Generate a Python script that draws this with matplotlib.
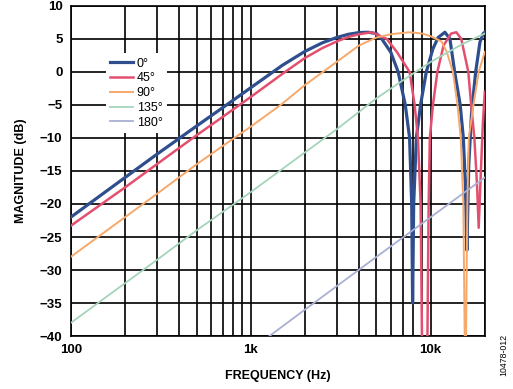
import numpy as np
import matplotlib
matplotlib.use('Agg')
import matplotlib.pyplot as plt
from matplotlib.ticker import FixedLocator, NullFormatter

plt.rcParams['font.family'] = ['Liberation Sans', 'DejaVu Sans']

# values (frequency in Hz, magnitude in dB)
f_0 = [100, 200, 300, 500, 700, 1000, 1500, 2000, 2500, 3000, 3500, 4000, 4500, 5000,
       5350, 6000, 6600, 7230, 7640, 7850, 7940, 8050, 8330, 8790, 9460, 10300, 11000,
       12000, 12800, 13600, 14600, 15200, 15600, 15900, 16300, 16900, 17800, 18800,
       19600, 20000]
m_0 = [-22, -16, -12.5, -8.2, -5.4, -2.4, 1, 3.1, 4.4, 5.2, 5.7, 5.95, 6, 5.8,
       5, 3, 0, -5, -10, -20, -35, -20, -10, -5, 0, 3.5, 5.2,
       6, 5, 0, -5, -10, -17, -27, -14, -6, 0, 4.5,
       5.8, 6]

f_45 = [100, 200, 300, 500, 700, 1000, 1500, 2000, 2500, 3000, 3500, 4000, 4700, 5700,
        6500, 7640, 8150, 8500, 8800, 8950, 9150, 9600, 9750, 9900, 10300, 10900, 11800,
        13000, 13900, 14800, 16200, 16800, 17500, 18100, 18500, 18900, 19500, 20000]
m_45 = [-23.3, -17.5, -14, -9.6, -6.8, -3.8, -0.3, 2.1, 3.6, 4.6, 5.3, 5.7, 6, 5,
        3, 0, -5, -10, -20, -40, -55, -40, -20, -10, -5, 0, 4,
        5.8, 6, 5, 0, -5, -10, -17, -23.6, -17, -8, -3]

f_90 = [100, 200, 300, 500, 700, 1000, 1500, 2000, 3000, 4000, 5000, 6000, 7600,
        9000, 10000, 11500, 12300, 13300, 14100, 14700, 15200, 15600, 16000, 16300,
        17300, 18500, 20000]
m_90 = [-28, -22, -18.5, -14, -11.2, -8.3, -4.8, -2, 1.5, 4, 5.2, 5.7, 6,
        5.8, 5.4, 4.6, 3, 0, -5, -10, -20, -50, -20, -10,
        -5, 0, 3]

f_135 = [100, 200, 300, 500, 1000, 2000, 3000, 5000, 7000, 10000, 15000, 20000]
m_135 = [-38, -32, -28.5, -24, -18.2, -12.2, -8.7, -4, -1.3, 1.5, 4.2, 5.8]

f_180 = [1200, 2000, 5000, 10000, 20000]
m_180 = [-40.5, -36, -28, -22, -16]

labels = ['0°', '45°', '90°', '135°', '180°']
colors = ['#2f4e8e', '#e3506f', '#f7a86b', '#a6d4bb', '#aab0d4']
widths = [2.3, 1.8, 1.4, 1.3, 1.3]

fig = plt.figure(figsize=(5.13, 3.89), dpi=100)
ax = fig.add_axes([0.138, 0.136, 0.807, 0.849])

series = [(f_0, m_0), (f_45, m_45), (f_90, m_90), (f_135, m_135), (f_180, m_180)]
for (f, m), lab, c, w in zip(series, labels, colors, widths):
    ax.plot(f, m, color=c, lw=w, label=lab, zorder=3)

ax.set_xscale('log')
ax.set_xlim(100, 20000)
ax.set_ylim(-40, 10)

ax.xaxis.set_major_locator(FixedLocator([100, 1000, 10000]))
ax.set_xticklabels(['100', '1k', '10k'])
minors = [k * d for d in [100, 1000, 10000] for k in range(2, 10)]
ax.xaxis.set_minor_locator(FixedLocator(minors))
ax.xaxis.set_minor_formatter(NullFormatter())
ax.set_yticks(np.arange(-40, 11, 5))

ax.grid(which='both', axis='x', color='black', lw=1.2)
ax.grid(which='major', axis='y', color='black', lw=1.2)
ax.set_axisbelow(True)
for s in ax.spines.values():
    s.set_linewidth(1.2)

ax.tick_params(which='both', length=0, pad=6, labelsize=9.5)
for t in ax.get_xticklabels() + ax.get_yticklabels():
    t.set_fontweight('bold')

ax.set_xlabel('FREQUENCY (Hz)', fontsize=9, fontweight='bold', labelpad=10)
ax.set_ylabel('MAGNITUDE (dB)', fontsize=9, fontweight='bold', labelpad=9)

leg = ax.legend(loc='upper left', bbox_to_anchor=(0.07, 0.875), fontsize=9,
                frameon=True, facecolor='white', edgecolor='none', framealpha=1,
                fancybox=False, handlelength=1.8, handletextpad=0.3,
                labelspacing=0.22, borderpad=0.35)
leg.set_zorder(5)

fig.text(0.983, 0.088, '10478-012', rotation=90, fontsize=6.3, ha='center', va='center')

fig.savefig('out.png', dpi=100)
